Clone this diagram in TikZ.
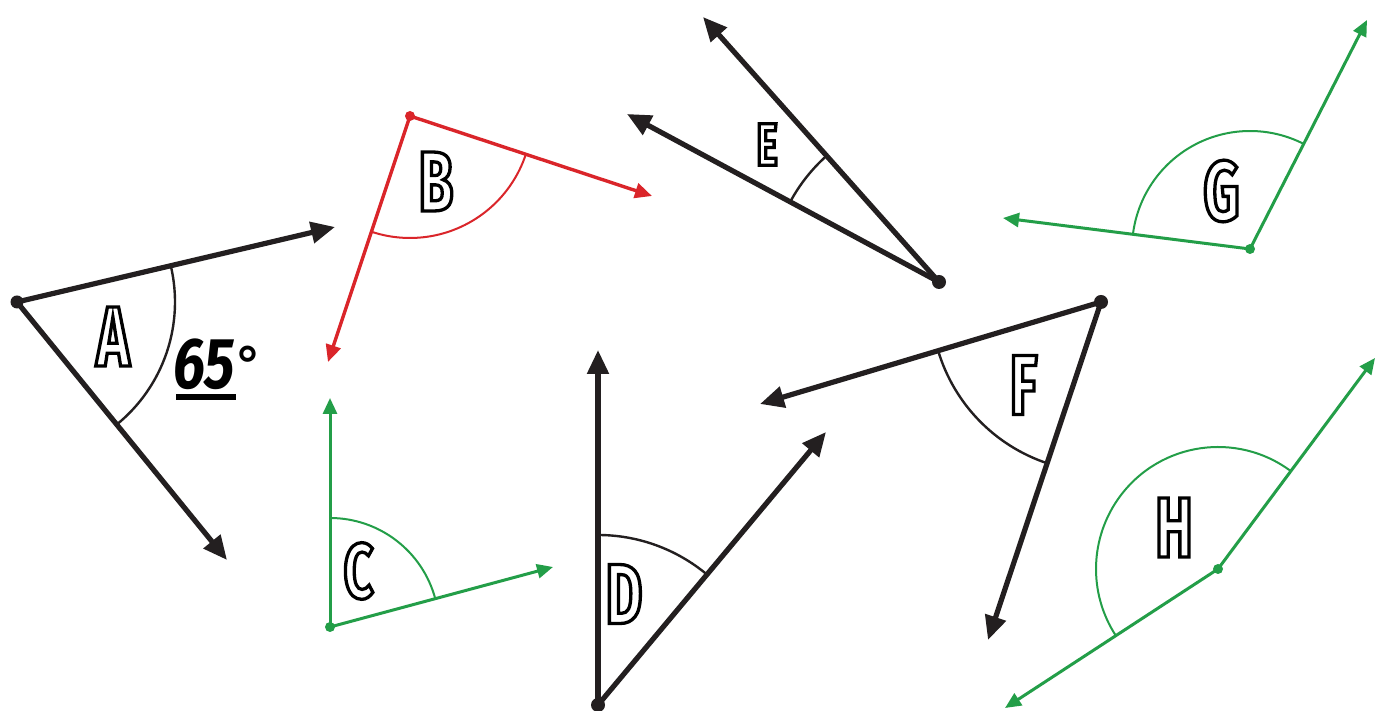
\documentclass[tikz,border=0pt]{standalone}
\usepackage{fontspec}
\usetikzlibrary{arrows.meta}
\newfontfamily\lblfont[FakeStretch=0.66]{Fira Sans}
\newfontfamily\numfont[FakeStretch=0.8]{Fira Sans}
\newfontfamily\degfont{DejaVu Sans}
\newcommand{\hollow}[1]{\special{pdf:literal direct 1 Tr 3.3 w 0 G}#1\special{pdf:literal direct 0 Tr}}
\definecolor{ink}{RGB}{35,31,32}
\definecolor{rd}{RGB}{218,37,42}
\definecolor{gr}{RGB}{35,158,72}
\begin{document}
\begin{tikzpicture}[x=1pt,y=1pt,
  blk/.style={line width=5.2pt,color=ink,-{Triangle[length=24pt,width=21pt]}},
  red ray/.style={line width=3.4pt,color=rd,-{Triangle[length=17pt,width=15pt]}},
  grn ray/.style={line width=3pt,color=gr,-{Triangle[length=16pt,width=14pt]}},
  blkarc/.style={line width=2.4pt,color=ink},
  redarc/.style={line width=2pt,color=rd},
  grnarc/.style={line width=2pt,color=gr},
  lbl/.style={text=black,inner sep=0pt,font=\lblfont\bfseries\fontsize{85}{85}\selectfont},
]
\useasboundingbox (0,0) rectangle (1381,711);
\fill[white] (0,0) rectangle (1381,711);

% ---------- A ----------
\coordinate (Av) at (17,409);
\coordinate (Aa) at (335,484);
\coordinate (Ab) at (227,151);
\draw[blkarc] (Av) ++(13.3:158) arc[start angle=13.3,end angle=-50.9,radius=158];
\draw[blk] (Av) -- (Aa);
\draw[blk] (Av) -- (Ab);
\fill[ink] (Av) circle (6.5);
\node[lbl] (Alab) at (113,374.5) {\hollow{A}};
\node[anchor=base west,inner sep=0pt,text=black,font=\numfont\bfseries\itshape\fontsize{72}{72}\selectfont] (Adeg) at (173,322) {65\raisebox{5pt}{\degfont\bfseries\fontsize{50}{50}\selectfont °}};
\draw[line width=6pt,black] (176,314) -- (236,314);

% ---------- B ----------
\coordinate (Bv) at (410,595);
\coordinate (Ba) at (652,515);
\coordinate (Bb) at (328,349);
\draw[redarc] (Bv) ++(-18.3:122) arc[start angle=-18.3,end angle=-108.4,radius=122];
\draw[red ray] (Bv) -- (Ba);
\draw[red ray] (Bv) -- (Bb);
\fill[rd] (Bv) circle (5);
\node[lbl] (Blab) at (436,529.5) {\hollow{B}};

% ---------- C ----------
\coordinate (Cv) at (330,84);
\coordinate (Ca) at (330,313);
\coordinate (Cb) at (553,144);
\draw[grnarc] (Cv) ++(90:109) arc[start angle=90,end angle=15.1,radius=109];
\draw[grn ray] (Cv) -- (Ca);
\draw[grn ray] (Cv) -- (Cb);
\fill[gr] (Cv) circle (5);
\node[lbl,font=\lblfont\bfseries\fontsize{78}{78}\selectfont] (Clab) at (358.5,140) {\hollow{C}};

% ---------- D ----------
\coordinate (Dv) at (598,6);
\coordinate (Da) at (598,361);
\coordinate (Db) at (826,279);
\draw[blkarc] (Dv) ++(90:170) arc[start angle=90,end angle=50.1,radius=170];
\draw[blk] (Dv) -- (Da);
\draw[blk] (Dv) -- (Db);
\fill[ink] (Dv) circle (7);
\node[lbl] (Dlab) at (624,117) {\hollow{D}};

% ---------- E ----------
\coordinate (Ev) at (939,429);
\coordinate (Ea) at (703,694);
\coordinate (Eb) at (627,597);
\draw[blkarc] (Ev) ++(131.7:169) arc[start angle=131.7,end angle=151.7,radius=169];
\draw[blk] (Ev) -- (Ea);
\draw[blk] (Ev) -- (Eb);
\fill[ink] (Ev) circle (7);
\node[lbl,font=\lblfont\bfseries\fontsize{60}{60}\selectfont] (Elab) at (767,566.5) {\hollow{E}};

% ---------- F ----------
\coordinate (Fv) at (1101,409);
\coordinate (Fa) at (760,307);
\coordinate (Fb) at (988,71);
\draw[blkarc] (Fv) ++(196.65:170) arc[start angle=196.65,end angle=251.5,radius=170];
\draw[blk] (Fv) -- (Fa);
\draw[blk] (Fv) -- (Fb);
\fill[ink] (Fv) circle (7);
\node[lbl] (Flab) at (1023.5,326) {\hollow{F}};

% ---------- G ----------
\coordinate (Gv) at (1250,462);
\coordinate (Ga) at (1367,691);
\coordinate (Gb) at (1003,493);
\draw[grnarc] (Gv) ++(62.9:118) arc[start angle=62.9,end angle=172.85,radius=118];
\draw[grn ray] (Gv) -- (Ga);
\draw[grn ray] (Gv) -- (Gb);
\fill[gr] (Gv) circle (5);
\node[lbl] (Glab) at (1221.5,520) {\hollow{G}};

% ---------- H ----------
\coordinate (Hv) at (1218,142);
\coordinate (Ha) at (1375,353);
\coordinate (Hb) at (1005,3);
\draw[grnarc] (Hv) ++(53.35:122) arc[start angle=53.35,end angle=213.1,radius=122];
\draw[grn ray] (Hv) -- (Ha);
\draw[grn ray] (Hv) -- (Hb);
\fill[gr] (Hv) circle (5);
\node[lbl] (Hlab) at (1174,183.5) {\hollow{H}};
\end{tikzpicture}
\end{document}
